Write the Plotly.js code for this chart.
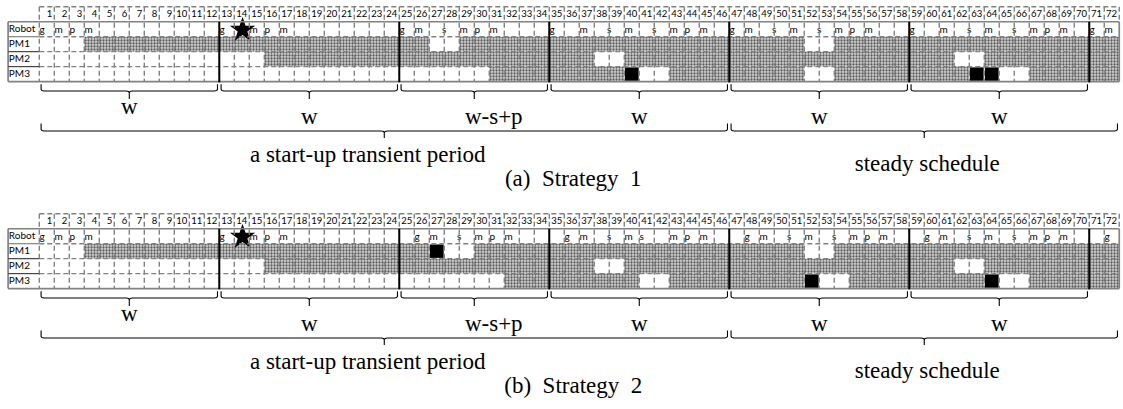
<!DOCTYPE html>
<html><head><meta charset="utf-8">
<script src="https://cdn.plot.ly/plotly-3.0.1.min.js"></script>
<style>html,body{margin:0;padding:0;background:#fff}#chart{width:1123px;height:409px}</style>
</head><body><div id="chart"></div>
<script>
// ---------------- DATA ----------------
const timeSlots = [1,2,3,4,5,6,7,8,9,10,11,12,13,14,15,16,17,18,19,20,21,22,23,24,25,26,27,28,29,30,31,32,33,34,35,36,
  37,38,39,40,41,42,43,44,45,46,47,48,49,50,51,52,53,54,55,56,57,58,59,60,61,62,63,64,65,66,67,68,69,70,71,72];
const rowNames = ['Robot','PM1','PM2','PM3'];
const cycleBraces = [[1,12],[13,24],[25,34],[35,46],[47,58],[59,70]];
const cycleLabels = ['w','w','w-s+p','w','w','w'];
const phaseBraces = [[1,46],[47,72]];
const phaseLabels = ['a start-up transient period','steady schedule'];
const cycleEnds = [12,24,34,46,58,70];
const starSlot = 14;
const captions = ['(a)\u00a0\u00a0Strategy\u00a0\u00a01','(b)\u00a0\u00a0Strategy\u00a0\u00a02'];

// Strategy 1: robot operations (slot, op, slots spanned)
const robotSlotsA = [1,2,3,4, 13,15,16,17, 25,26,27,29,30,31, 35,37,38,40,41,43,44,45, 47,48,49,51,52,54,55,56, 59,61,62,64,65,67,68,69, 71,72];
const robotOpsA   = ['g','m','p','m', 'g','m','p','m', 'g','m','s','m','p','m', 'g','m','s','m','s','m','p','m', 'g','m','s','m','s','m','p','m', 'g','m','s','m','s','m','p','m', 'g','m'];
const robotSpanA  = [1,1,1,1, 1,1,1,1, 1,1,2,1,1,1, 1,1,2,1,2,1,1,1, 1,1,2,1,2,1,1,1, 1,1,2,1,2,1,1,1, 1,1];
// Strategy 1: PM busy (shaded) and blocked (black) slot ranges
const pm1BusyA = [[4,26],[29,51],[54,72]];
const pm2BusyA = [[16,37],[40,61],[64,72]];
const pm3BusyA = [[31,39],[43,51],[54,62],[67,72]];
const pm1BlockA = [];
const pm2BlockA = [];
const pm3BlockA = [[40,40],[63,63],[64,64]];

// Strategy 2
const robotSlotsB = [1,2,3,4, 13,15,16,17, 26,27,28,30,31,32, 36,37,38,40,41,43,44,45, 48,49,50,52,53,55,56,57, 60,61,62,64,65,67,68,69, 72];
const robotOpsB   = ['g','m','p','m', 'g','m','p','m', 'g','m','s','m','p','m', 'g','m','s','m','s','m','p','m', 'g','m','s','m','s','m','p','m', 'g','m','s','m','s','m','p','m', 'g'];
const robotSpanB  = [1,1,1,1, 1,1,1,1, 1,1,2,1,1,1, 1,1,2,1,1,1,1,1, 1,1,2,1,2,1,1,1, 1,1,2,1,2,1,1,1, 1];
const pm1BusyB = [[4,26],[30,51],[54,72]];
const pm2BusyB = [[16,37],[40,61],[64,72]];
const pm3BusyB = [[32,40],[43,51],[55,63],[67,72]];
const pm1BlockB = [[27,27]];
const pm2BlockB = [];
const pm3BlockB = [[52,52],[64,64]];

// ---------------- LAYOUT CONSTANTS ----------------
const COLW = 15, ROWH = 14.95;
const px = p => p / COLW;          // pixels -> slot units
const py = p => p / ROWH;          // pixels -> row units
const rowY = {header:0.5, Robot:1.5, PM1:2.5, PM2:3.5, PM3:4.5};
const LABEL_X = -2.08;
const gridCol = '#828282';
const serif = 'Liberation Serif, Times New Roman, serif';
const sans = 'Lato, Liberation Sans, sans-serif';

const panels = [
  {yaxis:'y',  robotSlots:robotSlotsA, robotOps:robotOpsA, robotSpan:robotSpanA,
   busy:[pm1BusyA,pm2BusyA,pm3BusyA], block:[pm1BlockA,pm2BlockA,pm3BlockA], caption:captions[0]},
  {yaxis:'y2', robotSlots:robotSlotsB, robotOps:robotOpsB, robotSpan:robotSpanB,
   busy:[pm1BusyB,pm2BusyB,pm3BusyB], block:[pm1BlockB,pm2BlockB,pm3BlockB], caption:captions[1]}
];

const traces = [];
const shapes = [];

// brace geometry (row units, panel-local, measured from header top)
const bLineY = py(84.2), bTopY = py(77.5), bBotY = py(92.2);
const pLineY = py(124.2), pTopY = py(116.8), pBotY = py(131.2);
const cycleLabelY = [py(101.5), py(111.5), py(111.5), py(111.5), py(111.5), py(111.5)];
const cycleLabelDX = [0, 0, 1.3, 0, 0, 0];
const phaseLabelY = [py(149.5), py(158.5)];
const phaseLabelDX = [-1.1, 0.2];
const captionX = 35.6, captionY = py(173.5);

function braceXY(x0, x1, yl, yt, yb, xs, ys) {
  const xc = (x0 + x1) / 2;
  const pts = [
    [x0, yt], [x0, yl - py(1.6)], [x0 + px(0.8), yl - py(0.4)], [x0 + px(3), yl],
    [xc - px(3), yl], [xc - px(0.8), yl + py(0.5)], [xc, yl + py(1.8)], [xc, yb],
    [xc, yl + py(1.8)], [xc + px(0.8), yl + py(0.5)], [xc + px(3), yl],
    [x1 - px(3), yl], [x1 - px(0.8), yl - py(0.4)], [x1, yl - py(1.6)], [x1, yt]
  ];
  pts.forEach(p => { xs.push(p[0]); ys.push(p[1]); });
  xs.push(null); ys.push(null);
}

panels.forEach(P => {
  const yr = P.yaxis;
  const yref = yr;
  // busy bars
  const bx = [], bb = [], by = [];
  P.busy.forEach((segs, r) => segs.forEach(s => { bb.push(s[0] - 1); bx.push(s[1] - s[0] + 1); by.push(rowY[rowNames[r + 1]]); }));
  traces.push({type:'bar', orientation:'h', x:bx, base:bb, y:by, width:1, yaxis:yr, hoverinfo:'skip',
    marker:{color:'#c4c4c4', line:{width:0},
      pattern:{shape:'.', fgcolor:'#5c5c5c', bgcolor:'#d4d4d4', size:3, solidity:0.45}}});
  // blocked (black) cells
  const kx = [], kb = [], ky = [];
  P.block.forEach((segs, r) => segs.forEach(s => { kb.push(s[0] - 1 + 0.04); kx.push(s[1] - s[0] + 1 - 0.08); ky.push(rowY[rowNames[r + 1]]); }));
  if (kx.length) traces.push({type:'bar', orientation:'h', x:kx, base:kb, y:ky, width:0.9, yaxis:yr, hoverinfo:'skip',
    marker:{color:'#000', line:{width:0}}});

  // header numbers
  traces.push({type:'scatter', mode:'text', yaxis:yr, hoverinfo:'skip', cliponaxis:false,
    x: timeSlots.map(t => t - 0.14), y: timeSlots.map(() => rowY.header + 0.03),
    text: timeSlots.map(String), textposition:'middle left',
    textfont:{family:sans, size:9.5, color:'#000'}});
  // robot operations
  traces.push({type:'scatter', mode:'text', yaxis:yr, hoverinfo:'skip', cliponaxis:false,
    x: P.robotSlots.map((t, i) => P.robotSpan[i] === 2 ? t : t - 1 + 0.02),
    y: P.robotSlots.map(() => rowY.Robot + 0.1),
    text: P.robotOps,
    textposition: P.robotSpan.map(s => s === 2 ? 'middle center' : 'middle right'),
    textfont:{family:sans, size:10, color:'#000'}});
  // row labels
  traces.push({type:'scatter', mode:'text', yaxis:yr, hoverinfo:'skip', cliponaxis:false,
    x: rowNames.map(() => LABEL_X + 0.05), y: rowNames.map(n => rowY[n] + 0.03),
    text: rowNames, textposition:'middle right',
    textfont:{family:sans, size:10, color:'#000'}});
  // star
  traces.push({type:'scatter', mode:'markers', yaxis:yr, hoverinfo:'skip', cliponaxis:false,
    x:[starSlot - 0.45], y:[rowY.Robot + 0.05],
    marker:{symbol:'star', size:19, color:'#000', line:{width:0}}});

  // braces
  const lx = [], ly = [];
  cycleBraces.forEach(c => braceXY(c[0] - 1 + 0.12, c[1] - 0.12, bLineY, bTopY, bBotY, lx, ly));
  phaseBraces.forEach(c => braceXY(c[0] - 1 + 0.12, c[1] - 0.12, pLineY, pTopY, pBotY, lx, ly));
  traces.push({type:'scatter', mode:'lines', yaxis:yr, hoverinfo:'skip', cliponaxis:false,
    x:lx, y:ly, line:{color:'#000', width:1.1}});
  // brace labels
  traces.push({type:'scatter', mode:'text', yaxis:yr, hoverinfo:'skip', cliponaxis:false,
    x: cycleBraces.map((c, i) => (c[0] - 1 + c[1]) / 2 + cycleLabelDX[i]), y: cycleLabelY,
    text: cycleLabels, textposition:'middle center',
    textfont:{family:serif, size:23, color:'#000'}});
  traces.push({type:'scatter', mode:'text', yaxis:yr, hoverinfo:'skip', cliponaxis:false,
    x: phaseBraces.map((c, i) => (c[0] - 1 + c[1]) / 2 + phaseLabelDX[i]), y: phaseLabelY,
    text: phaseLabels, textposition:'middle center',
    textfont:{family:serif, size:23, color:'#000'}});
  traces.push({type:'scatter', mode:'text', yaxis:yr, hoverinfo:'skip', cliponaxis:false,
    x:[captionX], y:[captionY], text:[P.caption], textposition:'middle center',
    textfont:{family:serif, size:23, color:'#000'}});

  // ---- grid shapes ----
  const nCols = timeSlots.length;
  const dashed = {color:gridCol, width:1.4, dash:'5px,3px'};
  const solid = {color:gridCol, width:1.7};
  for (let c = 0; c <= nCols; c++) {
    if (c === nCols) {
      shapes.push({type:'line', xref:'x', yref, x0:c, x1:c, y0:0, y1:1, line:dashed});
      shapes.push({type:'line', xref:'x', yref, x0:c, x1:c, y0:1, y1:5, line:solid});
    } else {
      shapes.push({type:'line', xref:'x', yref, x0:c, x1:c, y0:0, y1:5, line:dashed});
    }
  }
  [0, 2, 3, 4].forEach(y => shapes.push({type:'line', xref:'x', yref, x0:0, x1:nCols, y0:y, y1:y, line:dashed}));
  [1, 5].forEach(y => shapes.push({type:'line', xref:'x', yref, x0:LABEL_X, x1:nCols, y0:y, y1:y, line:solid}));
  shapes.push({type:'line', xref:'x', yref, x0:LABEL_X, x1:LABEL_X, y0:1, y1:5, line:solid});
  shapes.push({type:'line', xref:'x', yref, x0:LABEL_X, x1:0, y0:2, y1:2, line:{color:gridCol, width:1.2}});
  [3, 4].forEach(y => shapes.push({type:'line', xref:'x', yref, x0:LABEL_X, x1:0, y0:y, y1:y, line:{color:'#444', width:1.2}}));
  cycleEnds.forEach(c => shapes.push({type:'line', xref:'x', yref, x0:c, x1:c, y0:1, y1:5.05, line:{color:'#000', width:2}}));
});

const layout = {
  width:1123, height:409, margin:{l:0, r:0, t:0, b:0},
  paper_bgcolor:'#fff', plot_bgcolor:'#fff', showlegend:false, barmode:'overlay',
  xaxis:{range:[-2.62, 72.25], visible:false, fixedrange:true},
  yaxis:{domain:[0.4939, 1], range:[-0.455 + 207 / ROWH, -0.455], visible:false, fixedrange:true},
  yaxis2:{domain:[0, 0.4939], range:[-0.455 + 202 / ROWH, -0.455], visible:false, fixedrange:true},
  shapes: shapes
};
Plotly.newPlot('chart', traces, layout, {staticPlot:true, displayModeBar:false});
</script>
</body></html>
